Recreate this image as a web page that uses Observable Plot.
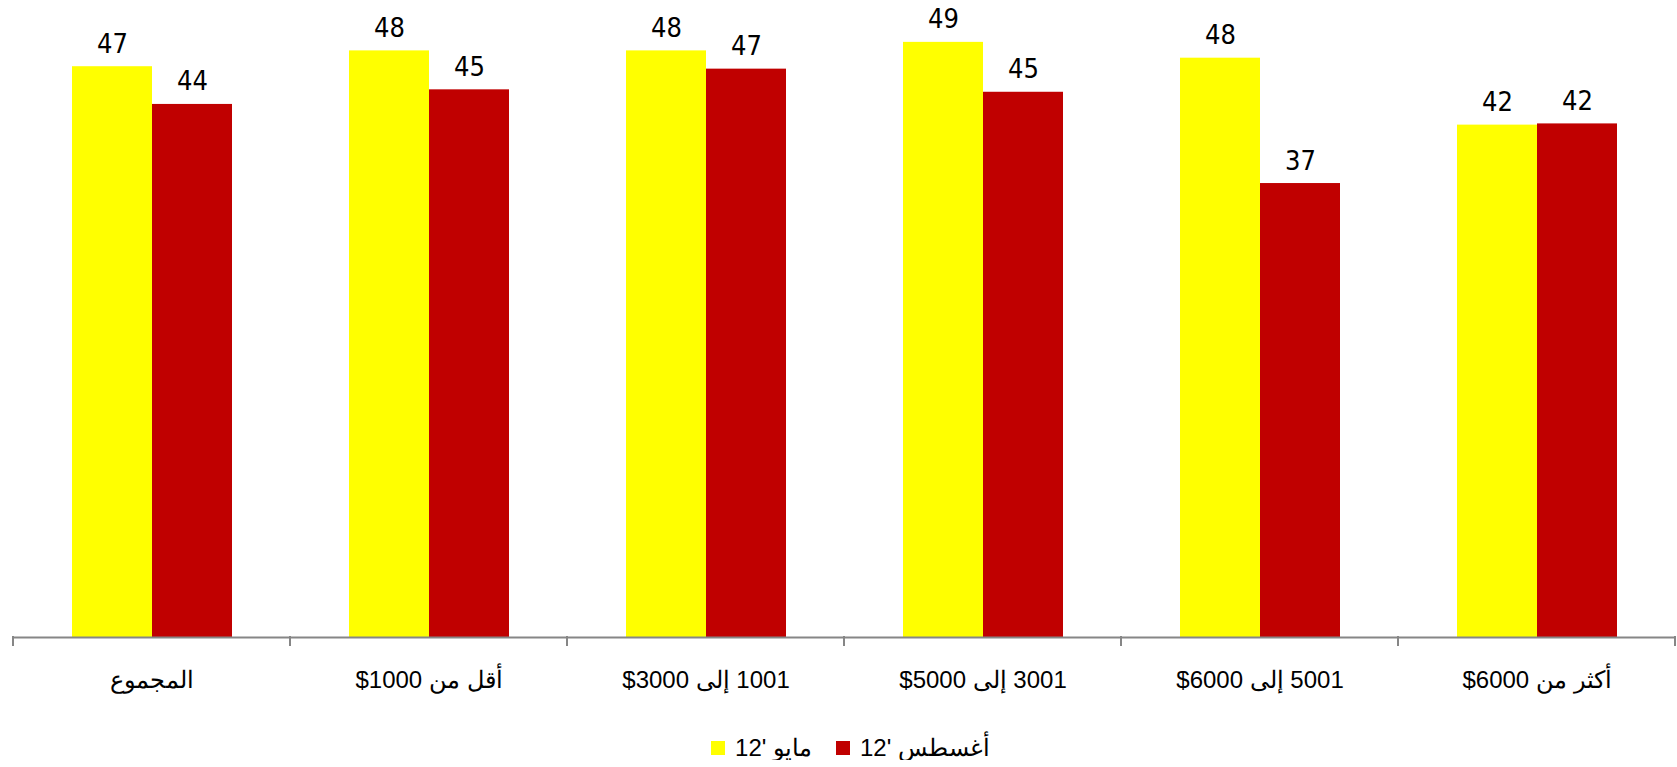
<!DOCTYPE html>
<html>
<head>
<meta charset="utf-8">
<script src="https://cdn.jsdelivr.net/npm/d3@7"></script>
<script src="https://cdn.jsdelivr.net/npm/@observablehq/plot@0.6"></script>
<style>
  html, body { margin: 0; padding: 0; background: #fff; }
  #chart { width: 1677px; }
  .legend { display: flex; justify-content: center; align-items: center; margin-top: 36px; padding-left: 24px;
            font-family: "Liberation Sans", Arial, sans-serif; font-size: 24px; line-height: 24px; color: #000; }
  .legend .item { display: flex; align-items: center; margin: 0 12px; }
  .legend .sw { width: 14px; height: 14px; margin-right: 10px; display: inline-block; }
</style>
</head>
<body>
<div id="chart"></div>
<script>
// ---- data ----
const categories = ["المجموع", "أقل من 1000$", "1001 إلى 3000$", "3001 إلى 5000$", "5001 إلى 6000$", "أكثر من 6000$"];
const seriesKeys = ["may", "aug"];
const seriesNames = ["مايو '12", "أغسطس '12"];
const seriesColors = ["#FFFF00", "#C00000"];
const mayValues = [46.9, 48.2, 48.2, 48.9, 47.6, 42.1];
const augValues = [43.8, 45.0, 46.7, 44.8, 37.3, 42.2];

const rows = [];
categories.forEach((c, i) => {
  rows.push({cat: c, series: "may", value: mayValues[i]});
  rows.push({cat: c, series: "aug", value: augValues[i]});
});

const rtl = s => "\u202B" + s + "\u202C";
const fmt = d3.format(".0f");

const plot = Plot.plot({
  width: 1677,
  height: 700,
  marginLeft: 13,
  marginRight: 2,
  marginTop: 0,
  marginBottom: 63,
  style: {fontFamily: "'Liberation Sans', Arial, sans-serif", fontSize: "24px", color: "#000", background: "#fff"},
  fx: {domain: categories, padding: 0, label: null},
  x: {domain: seriesKeys, paddingInner: 0, paddingOuter: 0.73, axis: null},
  y: {domain: [0, 52.34], axis: null},
  color: {domain: seriesKeys, range: seriesColors},
  marks: [
    Plot.barY(rows, {fx: "cat", x: "series", y: "value", fill: "series"}),
    Plot.text(rows, {fx: "cat", x: "series", y: "value", text: d => fmt(d.value),
      lineAnchor: "bottom", dy: -14, fontSize: 27, fill: "#000",
      fontFamily: "'Liberation Sans Narrow', 'DejaVu Sans Condensed', sans-serif"}),
    Plot.ruleY([0], {stroke: "#868686", strokeWidth: 2}),
    Plot.axisFx({anchor: "bottom", tickSize: 0, tickPadding: 33, label: null, tickFormat: rtl, fontSize: 24, fill: "#000"})
  ]
});

// boundary ticks between categories (from the fx band scale)
const fxs = plot.scale("fx");
const ys = plot.scale("y");
const y0 = ys.apply(0);
const bounds = categories.map(c => fxs.apply(c));
bounds.push(fxs.apply(categories[categories.length - 1]) + fxs.step);
d3.select(plot).append("g")
  .selectAll("line").data(bounds).join("line")
  .attr("x1", d => d).attr("x2", d => d)
  .attr("y1", y0 - 1).attr("y2", y0 + 9)
  .attr("stroke", "#868686").attr("stroke-width", 2);

document.getElementById("chart").appendChild(plot);

// legend
const legend = document.createElement("div");
legend.className = "legend";
seriesNames.forEach((name, i) => {
  const item = document.createElement("span");
  item.className = "item";
  const sw = document.createElement("span");
  sw.className = "sw";
  sw.style.background = seriesColors[i];
  const t = document.createElement("span");
  t.dir = "rtl";
  t.textContent = name;
  item.appendChild(sw);
  item.appendChild(t);
  legend.appendChild(item);
});
document.getElementById("chart").appendChild(legend);
</script>
</body>
</html>
